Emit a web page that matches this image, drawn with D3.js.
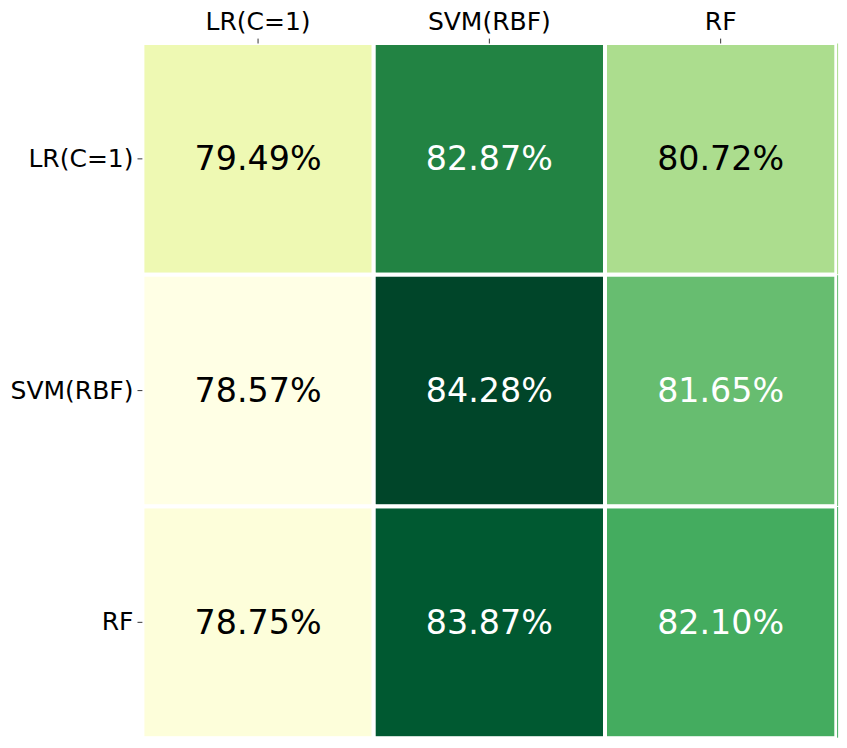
<!DOCTYPE html>
<html><head><meta charset="utf-8">
<script src="https://cdn.jsdelivr.net/npm/d3@7"></script>
<style>body{margin:0;background:#fff}svg{display:block}text{font-family:"DejaVu Sans",sans-serif}</style>
</head><body>
<svg id="c" width="847" height="748"></svg>
<script>
const rowLabels = ["LR(C=1)", "SVM(RBF)", "RF"];
const colLabels = ["LR(C=1)", "SVM(RBF)", "RF"];
const values = [
  [79.49, 82.87, 80.72],
  [78.57, 84.28, 81.65],
  [78.75, 83.87, 82.10]
];
const ylgn = ["#ffffe5","#f7fcb9","#d9f0a3","#addd8e","#78c679","#41ab5d","#238443","#006837","#004529"];

const svg = d3.select("#c");
const flat = values.flat();
const vmin = d3.min(flat), vmax = d3.max(flat);
const t = d3.scaleLinear().domain([vmin, vmax]).range([0, 1]);
const cmap = d3.scaleLinear().domain(d3.range(ylgn.length).map(i => i / (ylgn.length - 1))).range(ylgn).interpolate(d3.interpolateRgb);
const color = v => cmap(t(v));
const thresh = (vmin + vmax) / 2;

const x = d3.scaleBand().domain(colLabels).range([142.4, 836.3]);
const y = d3.scaleBand().domain(rowLabels).range([43, 738.2]);

const cells = [];
values.forEach((row, i) => row.forEach((v, j) => cells.push({r: rowLabels[i], c: colLabels[j], v, j})));

svg.append("g").selectAll("rect").data(cells).join("rect")
  .attr("x", d => x(d.c)).attr("y", d => y(d.r))
  .attr("width", x.bandwidth()).attr("height", y.bandwidth())
  .attr("fill", d => color(d.v))
  .attr("stroke", "#fff").attr("stroke-width", 4);

// sliver on right edge of last column
svg.append("g").selectAll("line").data(cells.filter(d => d.j === colLabels.length - 1)).join("line")
  .attr("x1", x.range()[1] + 1.3).attr("x2", x.range()[1] + 1.3)
  .attr("y1", d => y(d.r) + 0.5).attr("y2", d => y(d.r) + y.bandwidth() - 0.5)
  .attr("stroke", d => color(d.v)).attr("stroke-width", 1);

svg.append("g").selectAll("text").data(cells).join("text")
  .attr("x", d => x(d.c) + x.bandwidth() / 2)
  .attr("y", d => y(d.r) + y.bandwidth() / 2)
  .attr("text-anchor", "middle").attr("dominant-baseline", "central")
  .attr("font-size", 33.3)
  .attr("fill", d => d.v > thresh ? "#fff" : "#000")
  .text(d => d.v.toFixed(2) + "%");

// top axis
const xa = svg.append("g").attr("transform", "translate(0,43.5)")
  .call(d3.axisTop(x).tickSize(4.9).tickPadding(9));
xa.select(".domain").remove();
xa.selectAll("text").attr("font-size", 25).attr("font-family", "DejaVu Sans").attr("fill", "#000");
xa.selectAll("line").attr("stroke", "#000").attr("stroke-width", 0.8);

// left axis
const ya = svg.append("g").attr("transform", "translate(142.4,0)")
  .call(d3.axisLeft(y).tickSize(4.9).tickPadding(4));
ya.select(".domain").remove();
ya.selectAll("text").attr("font-size", 25).attr("font-family", "DejaVu Sans").attr("fill", "#000");
ya.selectAll("line").attr("stroke", "#000").attr("stroke-width", 0.8);
</script>
</body></html>
